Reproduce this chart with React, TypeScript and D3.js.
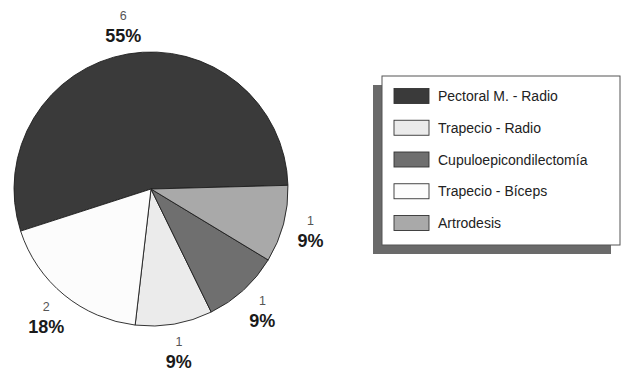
import React from "react";
import * as d3 from "d3";

// Surgical technique categories (legend order), their case counts and fills
const categories = [
  "Pectoral M. - Radio",
  "Trapecio - Radio",
  "Cupuloepicondilectomía",
  "Trapecio - Bíceps",
  "Artrodesis",
];
const counts = [6, 1, 1, 2, 1];
const fills = ["#3a3a3a", "#ebebeb", "#6f6f6f", "#fcfcfc", "#a9a9a9"];

// Clockwise order in which the slices are laid out around the pie
const sliceOrder = [
  "Pectoral M. - Radio",
  "Artrodesis",
  "Cupuloepicondilectomía",
  "Trapecio - Radio",
  "Trapecio - Bíceps",
];

const FONT = "'Liberation Sans', Arial, Helvetica, sans-serif";

type Slice = { name: string; value: number; fill: string };

export default function App() {
  const width = 626;
  const height = 375;
  const cx = 151;
  const cy = 189;
  const radius = 137;
  const labelRadius = 165;

  const data: Slice[] = categories.map((name, i) => ({
    name,
    value: counts[i],
    fill: fills[i],
  }));
  const total = d3.sum(counts);

  const start = (-107.9 * Math.PI) / 180;
  const pie = d3
    .pie<Slice>()
    .value((d) => d.value)
    .sort((a, b) => sliceOrder.indexOf(a.name) - sliceOrder.indexOf(b.name))
    .startAngle(start)
    .endAngle(start + 2 * Math.PI);
  const arcs = pie(data);
  const arc = d3.arc<d3.PieArcDatum<Slice>>().innerRadius(0).outerRadius(radius);

  // Legend layout
  const lgX = 382;
  const lgY = 76;
  const lgW = 238;
  const lgH = 169;
  const rowY = d3
    .scalePoint<string>()
    .domain(categories)
    .range([lgY + 20, lgY + 147]);

  return (
    <svg
      width={width}
      height={height}
      style={{ position: "absolute", left: 0, top: 0, background: "#fff" }}
      fontFamily={FONT}
    >
      <g transform={`translate(${cx},${cy})`}>
        {arcs.map((a) => (
          <path
            key={a.data.name}
            d={arc(a) || ""}
            fill={a.data.fill}
            stroke="#1e1e1e"
            strokeWidth={0.9}
          />
        ))}
        {arcs.map((a) => {
          const m = (a.startAngle + a.endAngle) / 2;
          const x = labelRadius * Math.sin(m);
          const y = -labelRadius * Math.cos(m);
          const pct = Math.round((a.data.value / total) * 100);
          return (
            <g key={"l" + a.data.name} textAnchor="middle">
              <text x={x} y={y - 6} fontSize={12.5} fill="#555">
                {a.data.value}
              </text>
              <text x={x} y={y + 16} fontSize={18} fontWeight="bold" fill="#1a1a1a">
                {pct}%
              </text>
            </g>
          );
        })}
      </g>

      {/* Legend with drop shadow */}
      <rect x={lgX - 9} y={lgY + 9} width={lgW} height={lgH} fill="#6a6a6a" />
      <rect
        x={lgX}
        y={lgY}
        width={lgW}
        height={lgH}
        fill="#fff"
        stroke="#555"
        strokeWidth={1}
      />
      {data.map((d) => {
        const y = rowY(d.name) as number;
        return (
          <g key={"lg" + d.name}>
            <rect
              x={lgX + 12}
              y={y - 7.5}
              width={35}
              height={15}
              fill={d.fill}
              stroke="#333"
              strokeWidth={0.9}
            />
            <text x={lgX + 56} y={y + 5} fontSize={14} fill="#222">
              {d.name}
            </text>
          </g>
        );
      })}
    </svg>
  );
}
